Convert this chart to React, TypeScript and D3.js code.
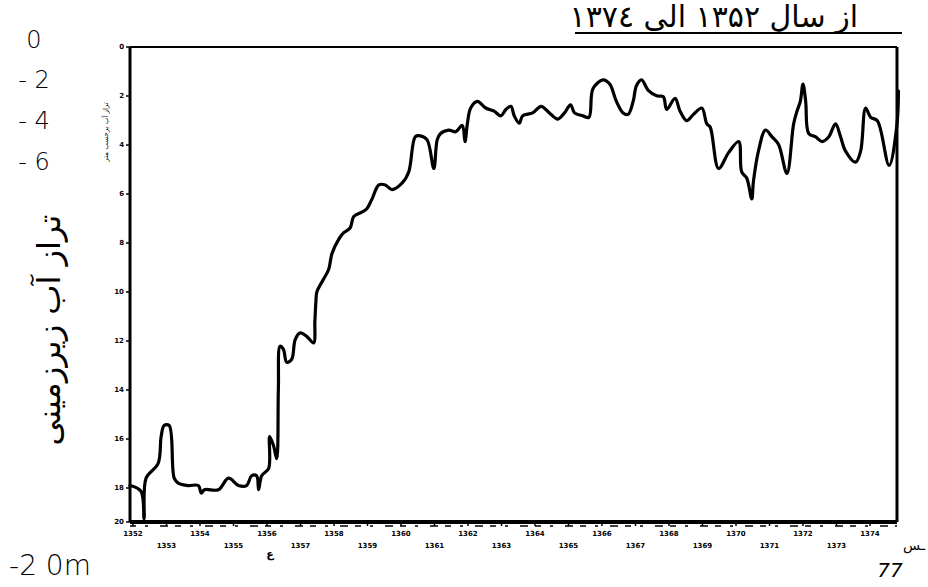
import React from 'react';
import * as d3 from 'd3';

// groundwater level (m below surface)
const years = [
  1351.91, 1352.24, 1352.33, 1352.39, 1352.75, 1352.84, 1352.93, 1353.08, 1353.23, 1353.35,
  1353.65, 1353.95, 1354.04, 1354.13, 1354.55, 1354.85, 1355.15, 1355.39, 1355.54, 1355.69,
  1355.75, 1355.84, 1356.05, 1356.08, 1356.2, 1356.29, 1356.34, 1356.39, 1356.49, 1356.59,
  1356.74, 1356.84, 1356.99, 1357.19, 1357.39, 1357.43, 1357.46, 1357.49, 1357.69, 1357.84,
  1357.94, 1358.14, 1358.29, 1358.48, 1358.59, 1358.83, 1358.98, 1359.13, 1359.34, 1359.53,
  1359.73, 1360.03, 1360.23, 1360.43, 1360.58, 1360.78, 1360.98, 1361.08, 1361.18, 1361.43,
  1361.63, 1361.83, 1361.91, 1361.98, 1362.08, 1362.28, 1362.53, 1362.78, 1362.98, 1363.13,
  1363.28, 1363.38, 1363.53, 1363.63, 1363.93, 1364.18, 1364.43, 1364.68, 1364.88, 1365.06,
  1365.18, 1365.43, 1365.61, 1365.73, 1366.03, 1366.23, 1366.43, 1366.63, 1366.78, 1366.93,
  1367.03, 1367.18, 1367.38, 1367.63, 1367.83, 1367.93, 1368.18, 1368.33, 1368.53, 1368.73,
  1368.98, 1369.13, 1369.23, 1369.48, 1369.78, 1370.08, 1370.17, 1370.32, 1370.47, 1370.52,
  1370.67, 1370.88, 1371.07, 1371.27, 1371.52, 1371.72, 1371.82, 1371.92, 1372.0, 1372.08,
  1372.17, 1372.37, 1372.57, 1372.77, 1372.97, 1373.12, 1373.27, 1373.57, 1373.72, 1373.87,
  1374.02, 1374.22, 1374.57, 1374.8, 1374.85,
];
const levels = [
  17.9, 18.2, 19.8, 17.6, 17.0, 15.9, 15.45, 15.45, 17.6, 17.8,
  17.9, 17.9, 18.3, 18.1, 18.1, 17.6, 17.9, 17.9, 17.5, 17.5,
  18.1, 17.5, 17.2, 15.9, 16.3, 16.8, 13.91, 12.21, 12.34, 12.87,
  12.74, 11.95, 11.67, 11.82, 12.08, 11.17, 10.39, 9.99, 9.47, 9.08,
  8.43, 7.85, 7.58, 7.39, 6.92, 6.74, 6.6, 6.22, 5.63, 5.63,
  5.82, 5.56, 5.1, 3.66, 3.63, 3.79, 4.96, 3.79, 3.53, 3.39,
  3.46, 3.2, 3.86, 3.14, 2.49, 2.22, 2.49, 2.62, 2.81, 2.55,
  2.42, 2.81, 3.11, 2.81, 2.69, 2.42, 2.69, 2.94, 2.69, 2.36,
  2.69, 2.81, 2.87, 1.7, 1.34, 1.51, 2.22, 2.69, 2.75, 2.22,
  1.57, 1.34, 1.77, 1.99, 2.03, 2.55, 2.1, 2.62, 3.01, 2.75,
  2.49, 3.14, 3.27, 4.96, 4.31, 3.86, 5.1, 5.35, 6.2, 5.49,
  4.25, 3.39, 3.66, 3.98, 5.16, 3.14, 2.62, 2.22, 1.51, 2.22,
  3.53, 3.66, 3.86, 3.66, 3.14, 3.66, 4.25, 4.7, 4.25, 2.49,
  2.87, 3.01, 4.83, 3.23, 1.8,
];

const yTicks = [0, 2, 4, 6, 8, 10, 12, 14, 16, 18, 20];
const yTickLabels = ['0', '2', '4', '6', '8', '10', '12', '14', '16', '18', '20'];
const xTicks = [1352, 1353, 1354, 1355, 1356, 1357, 1358, 1359, 1360, 1361, 1362, 1363,
  1364, 1365, 1366, 1367, 1368, 1369, 1370, 1371, 1372, 1373, 1374];
// handwritten depth notes beside the axis
const noteLabels = ['0', '- 2', '- 4', '- 6'];
const noteY = [40, 80, 121, 162];

const title = 'از سال ۱۳۵۲ الی ۱۳۷٤';
const yTitle = 'تراز آب زیرزمینی';
const ySmallTitle = 'تراز آب برحسب متر';

const W = 928;
const H = 587;
const left = 130, right = 897, top = 47, bottom = 522;

export default function App() {
  const x = d3.scaleLinear().domain([1352, 1374]).range([133, 870]);
  // the scanned axis is squeezed between 18 and 20
  const y = d3.scaleLinear().domain([0, 18, 20]).range([top, 488, bottom]);

  const pts: [number, number][] = years.map((yr, i) => [yr, levels[i]]);
  const line = d3.line<[number, number]>()
    .x(d => x(d[0]))
    .y(d => y(d[1]))
    .curve(d3.curveCatmullRom.alpha(0.5));

  const hand = { fontFamily: 'DejaVu Sans', fill: '#000' };

  return (
    <svg width={W} height={H} style={{ position: 'absolute', left: 0, top: 0, background: '#fff' }}>
      <rect width={W} height={H} fill="#fff" />

      {/* title with underline */}
      <text x={858} y={27} textAnchor="end" fontSize={30} {...hand}>{title}</text>
      <line x1={575} x2={902} y1={33} y2={33} stroke="#000" strokeWidth={2} />

      {/* frame */}
      <line x1={left} x2={right} y1={top} y2={top} stroke="#000" strokeWidth={2} />
      <line x1={right} x2={right} y1={top} y2={bottom} stroke="#000" strokeWidth={3} />
      <line x1={left} x2={left} y1={top} y2={bottom} stroke="#000" strokeWidth={3} />
      <line x1={left} x2={right} y1={bottom} y2={bottom} stroke="#000" strokeWidth={4} />
      <line x1={left} x2={right} y1={bottom + 4} y2={bottom + 4} stroke="#000" strokeWidth={1.5}
        strokeDasharray="6 9 3 12 8 7" />

      {/* y ticks */}
      {yTicks.map((v, i) => (
        <g key={'y' + v}>
          <line x1={left - 4} x2={left} y1={y(v)} y2={y(v)} stroke="#000" strokeWidth={1.5} />
          <text x={left - 6} y={y(v)} dy="0.35em" textAnchor="end" fontSize={7}
            fontWeight="bold" fontFamily="DejaVu Sans">{yTickLabels[i]}</text>
        </g>
      ))}

      {/* x ticks, two staggered rows */}
      {xTicks.map((yr, i) => (
        <g key={'x' + yr}>
          <line x1={x(yr)} x2={x(yr)} y1={bottom} y2={bottom + 4} stroke="#000" strokeWidth={1.5} />
          <text x={x(yr)} y={i % 2 === 0 ? bottom + 14 : bottom + 26} textAnchor="middle"
            fontSize={7} fontWeight="bold" fontFamily="DejaVu Sans">{String(yr)}</text>
        </g>
      ))}

      {/* the series */}
      <path d={line(pts) || ''} fill="none" stroke="#000" strokeWidth={3.2}
        strokeLinejoin="round" strokeLinecap="round" />

      {/* handwritten notes on the left */}
      {noteLabels.map((t, i) => (
        <text key={'n' + i} x={34} y={noteY[i]} dy="0.35em" textAnchor="middle" fontSize={24}
          fontWeight={300} {...hand}>{t}</text>
      ))}
      <text x={50} y={565} dy="0.35em" textAnchor="middle" fontSize={28} fontWeight={300} {...hand}>-2 0m</text>
      <text transform="translate(60,330) rotate(-90)" textAnchor="middle"
        fontSize={32} {...hand}>{yTitle}</text>
      <text transform="translate(108,132) rotate(-90)" textAnchor="middle"
        fontSize={7} {...hand}>{ySmallTitle}</text>

      {/* stray marks from the scan */}
      <text x={890} y={577} textAnchor="middle" fontSize={20} fontStyle="italic" {...hand}>77</text>
      <text x={925} y={550} textAnchor="end" fontSize={14} {...hand}>ـس</text>
      <text x={270} y={558} textAnchor="middle" fontSize={11} fontWeight="bold" {...hand}>ع</text>
    </svg>
  );
}
